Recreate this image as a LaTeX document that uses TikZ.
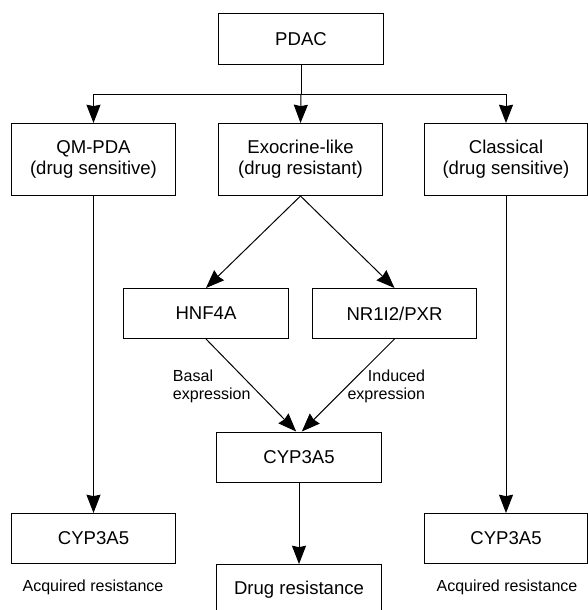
\documentclass[tikz,border=0pt]{standalone}
\usepackage{fontspec}
\setmainfont{Liberation Sans}
\usepackage{tikz}
\usetikzlibrary{arrows.meta}

\begin{document}
\begin{tikzpicture}[x=0.025cm, y=-0.025cm,
		box/.style={draw, line width=0.7pt, minimum width=4.1cm, minimum height=1.25cm, align=center, font=\fontsize{13.2}{15}\selectfont},
		tallbox/.style={box, minimum height=1.8cm},
		lbl/.style={font=\fontsize{11.4}{12.8}\selectfont},
		arr/.style={-{Stealth[length=13pt, width=10pt, inset=1pt]}, line width=0.7pt}]
		\useasboundingbox (0, 0) rectangle (587, 610);

		\node[box] (pdac) at (301, 39) {PDAC};
		\node[tallbox] (qm) at (93.5, 159.5) {QM-PDA\\(drug sensitive)};
		\node[tallbox] (exo) at (300.5, 159.5) {Exocrine-like\\(drug resistant)};
		\node[tallbox, minimum width=4.05cm] (cla) at (506, 159.5) {Classical\\(drug sensitive)};
		\node[box] (hnf) at (206, 313.5) {HNF4A};
		\node[box] (nr) at (394.5, 313.5) {NR1I2/PXR};
		\node[box] (cypm) at (299, 457) {CYP3A5};
		\node[box] (drug) at (299, 589.5) {Drug resistance};
		\node[box] (cypl) at (93.5, 538.5) {CYP3A5};
		\node[box, minimum width=4.05cm] (cypr) at (506, 538.5) {CYP3A5};

		\node[lbl] (acql) at (93, 587) {Acquired resistance};
		\node[lbl] (acqr) at (507, 587) {Acquired resistance};
		\node[lbl, anchor=west, align=left] (basal) at (168, 386) {Basal\\expression};
		\node[lbl, anchor=east, align=right] (induced) at (430, 386) {Induced\\expression};

		\coordinate (bar) at (301, 94);
		\draw[line width=0.7pt] (pdac.south) -- (bar);
		\draw[arr] (bar) -- (exo.north);
		\draw[arr] (bar) -| (qm.north);
		\draw[arr] (bar) -| (cla.north);
		\draw[arr] (exo.south) -- (hnf.north);
		\draw[arr] (exo.south) -- (nr.north);
		\draw[arr] (hnf.south) -- ([xshift=-2pt]cypm.north);
		\draw[arr] (nr.south) -- ([xshift=2pt]cypm.north);
		\draw[arr] (cypm.south) -- (drug.north);
		\draw[arr] (qm.south) -- (cypl.north);
		\draw[arr] (cla.south) -- (cypr.north);
	\end{tikzpicture}
\end{document}
